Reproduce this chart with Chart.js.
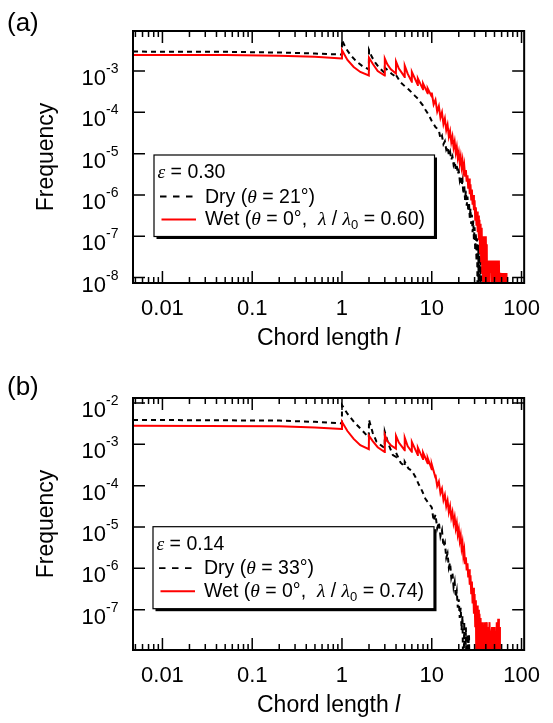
<!DOCTYPE html>
<html>
<head>
<meta charset="utf-8">
<title>Chord length distributions</title>
<script src="https://cdn.jsdelivr.net/npm/chart.js@4.4.0/dist/chart.umd.min.js"></script>
<style>
  html, body { margin: 0; padding: 0; background: #fff; }
  canvas { display: block; }
</style>
</head>
<body>
<canvas id="chartA" width="553" height="361"></canvas>
<canvas id="chartB" width="553" height="362"></canvas>
<script>
// ---- axis ticks ----
const xTickValues = [0.01, 0.1, 1, 10, 100];
const xTickLabels = ['0.01', '0.1', '1', '10', '100'];
const yTickValuesA = [1e-3, 1e-4, 1e-5, 1e-6, 1e-7, 1e-8];
const yTickExpA = ['-3', '-4', '-5', '-6', '-7', '-8'];
const yTickValuesB = [1e-2, 1e-3, 1e-4, 1e-5, 1e-6, 1e-7];
const yTickExpB = ['-2', '-3', '-4', '-5', '-6', '-7'];

// ---- panel (a): wet (red) ----
const wetA_x = [
  0.0047, 0.05, 0.2, 0.5, 0.999,
  1, 1.15, 1.35, 1.6, 1.99,
  2, 2.2, 2.5, 2.99,
  3, 3.2, 3.5, 3.99,
  4, 4.3, 4.99,
  5, 5.4, 5.99,
  6, 6.99, 7, 7.99, 8, 8.99, 9, 9.99, 10,
  10.5, 11, 11.5, 12, 12.5, 13, 13.5, 14, 14.5, 15, 15.5, 16, 16.5, 17, 17.5, 18, 18.5, 19, 19.5, 20,
  20.5, 21, 21.5, 22, 22.5, 23, 23.5, 24, 24.5, 25, 25.5, 26, 26.5, 27, 27.5, 28, 28.5,
  29, 29.5, 30, 30.5, 31, 31.5, 32, 32.5, 33, 33.5, 34, 34.5, 35, 35.5, 36,
  36.5, 37, 37.5, 38, 38.5, 39, 39.5, 40, 40.5, 41, 41.5, 42, 43, 44, 45, 46, 47, 48,
  49, 50, 51, 52, 53, 54, 55, 56, 57, 58, 59, 60, 61, 62, 63, 64, 65, 66, 67, 68, 69
];
const wetA_y = [
  2.45e-3, 2.43e-3, 2.35e-3, 2.2e-3, 2.02e-3,
  3.2e-3, 1.85e-3, 1.25e-3, 9.5e-4, 7.8e-4,
  2.1e-3, 1.5e-3, 1.0e-3, 7.8e-4,
  2.0e-3, 1.45e-3, 1.1e-3, 8.7e-4,
  1.7e-3, 1.15e-3, 7.2e-4,
  1.35e-3, 8.5e-4, 5.5e-4,
  9.5e-4, 4.6e-4, 6.6e-4, 3.6e-4, 5.0e-4, 2.9e-4, 3.8e-4, 2.4e-4, 3.0e-4,
  1.55e-4, 2.0e-4, 1.05e-4, 1.41e-4, 7.4e-5, 1.0e-4, 5.2e-5, 7.1e-5, 3.7e-5, 5.0e-5, 2.6e-5, 3.5e-5, 1.9e-5, 2.6e-5, 1.41e-5, 1.95e-5, 1.05e-5, 1.45e-5, 7.9e-6, 1.07e-5,
  6.0e-6, 8.5e-6, 4.8e-6, 6.8e-6, 3.7e-6, 5.2e-6, 2.9e-6, 4.0e-6, 2.1e-6, 3.0e-6, 1.41e-6, 2.5e-6, 1.05e-6, 1.8e-6, 7.8e-7, 1.35e-6, 5.8e-7,
  1.0e-6, 4.3e-7, 7.4e-7, 2.5e-7, 5.0e-7, 1.8e-7, 4.0e-7, 1.26e-7, 3.2e-7, 8e-8, 2.5e-7, 4e-8, 2.0e-7, 2.5e-8, 1.6e-7,
  1.3e-8, 1.0e-7, 1e-9, 1.0e-7, 2.6e-8, 7.6e-8, 1e-9, 1.0e-7, 1.3e-8, 6.4e-8, 1e-9, 2.6e-8, 1e-9, 2.6e-8, 1.3e-8, 2.6e-8, 1e-9, 2.6e-8,
  1e-9, 2.6e-8, 1.3e-8, 2.6e-8, 1e-9, 2.6e-8, 1e-9, 2.6e-8, 1e-9, 1.3e-8, 1e-9, 1.3e-8, 1e-9, 1.3e-8, 1e-9, 1.3e-8, 1e-9, 1.3e-8, 1e-9, 1.3e-8, 1e-9
];

// ---- panel (a): dry (black dashed) ----
const dryA_x = [
  0.0047, 0.05, 0.2, 0.5, 0.999,
  1, 1.1, 1.25, 1.45, 1.7, 1.99,
  2, 2.15, 2.35, 2.6, 2.99,
  3, 3.3, 3.6, 3.99,
  4, 4.5, 5, 5.5, 6, 6.5, 7, 7.5, 8, 8.5, 9, 9.5, 10, 11,
  12, 12.5, 13, 13.5, 14, 14.5, 15, 15.5, 16, 16.5, 17, 17.5, 18, 18.5, 19, 19.5, 20, 20.5, 21, 21.5, 22,
  22.5, 23, 23.5, 24, 24.5, 25, 25.5, 26, 26.5, 27, 27.5, 28, 28.5, 29, 29.5, 30, 30.5, 31, 31.5, 32,
  32.5, 33, 33.5, 34, 34.5, 35, 35.5, 36, 36.5, 37, 37.5
];
const dryA_y = [
  2.95e-3, 2.92e-3, 2.8e-3, 2.65e-3, 2.5e-3,
  5.6e-3, 3.6e-3, 2.4e-3, 1.7e-3, 1.3e-3, 1.1e-3,
  3.2e-3, 2.2e-3, 1.6e-3, 1.2e-3, 9e-4,
  1.2e-3, 1.0e-3, 8.5e-4, 7.2e-4,
  8.0e-4, 5.3e-4, 4.3e-4, 3.6e-4, 3.0e-4, 2.5e-4, 2.15e-4, 1.75e-4, 1.45e-4, 1.15e-4, 9.5e-5, 7.7e-5, 6.2e-5, 4.4e-5,
  3.7e-5, 2.3e-5, 2.7e-5, 1.7e-5, 2.0e-5, 1.26e-5, 1.48e-5, 9.3e-6, 1.12e-5, 7.1e-6, 8.5e-6, 5.4e-6, 6.6e-6, 4.2e-6, 5.1e-6, 3.2e-6, 3.8e-6, 2.3e-6, 2.9e-6, 1.7e-6, 2.2e-6,
  1.05e-6, 1.74e-6, 7.6e-7, 1.26e-6, 5.5e-7, 9.1e-7, 4.0e-7, 6.6e-7, 2.8e-7, 4.7e-7, 2.0e-7, 3.3e-7, 1.26e-7, 2.4e-7, 8e-8, 1.66e-7, 4.5e-8, 1.2e-7, 2.5e-8, 8.9e-8,
  1e-9, 6.3e-8, 1e-9, 4.5e-8, 1e-9, 3.2e-8, 1e-9, 2.6e-8, 1e-9, 1.3e-8, 1e-9
];

// ---- panel (b): wet (red) ----
const wetB_x = [
  0.0047, 0.2, 0.5, 0.999,
  1, 1.15, 1.35, 1.6, 1.99,
  2, 2.2, 2.5, 2.99,
  3, 3.2, 3.5, 3.99,
  4, 4.3, 4.99,
  5, 5.4, 5.99,
  6, 6.99, 7, 7.99, 8, 8.99, 9, 9.99, 10, 10.99,
  11, 11.5, 12, 12.5, 13, 13.5, 14, 14.5, 15, 15.5, 16, 16.5, 17, 17.5, 18, 18.5, 19, 19.5, 20,
  20.5, 21, 21.5, 22, 22.5, 23, 23.5, 24, 24.5, 25, 25.5, 26, 26.5, 27, 27.5, 28,
  28.5, 29, 29.5, 30, 30.5, 31, 31.5, 32, 32.5, 33, 33.5, 34, 34.5, 35, 35.5, 36, 36.5,
  37, 37.5, 38, 38.5, 39, 39.5, 40, 41, 41.5, 42, 43, 44, 45, 46, 47, 48, 49, 50, 51, 53, 54, 55, 56, 57, 57.5
];
const wetB_y = [
  2.8e-3, 2.75e-3, 2.55e-3, 2.35e-3,
  3.5e-3, 2.1e-3, 1.35e-3, 9.5e-4, 7.6e-4,
  1.6e-3, 1.2e-3, 8.5e-4, 6.5e-4,
  1.7e-3, 1.2e-3, 9.5e-4, 7.9e-4,
  1.6e-3, 1.1e-3, 7.2e-4,
  1.45e-3, 9e-4, 6.6e-4,
  1.15e-3, 5.5e-4, 8.3e-4, 4.4e-4, 6.3e-4, 3.5e-4, 4.7e-4, 2.5e-4, 3.3e-4, 1.58e-4,
  1.86e-4, 9.8e-5, 1.26e-4, 6.6e-5, 8.5e-5, 4.5e-5, 6.0e-5, 3.2e-5, 4.4e-5, 2.3e-5, 3.2e-5, 1.7e-5, 2.3e-5, 1.26e-5, 1.74e-5, 9.3e-6, 1.26e-5, 6.6e-6, 8.9e-6,
  4.7e-6, 6.3e-6, 3.1e-6, 4.2e-6, 2.0e-6, 2.75e-6, 1.32e-6, 1.86e-6, 8.9e-7, 1.32e-6, 6.0e-7, 9.5e-7, 4.0e-7, 6.8e-7, 2.5e-7, 4.8e-7,
  1.41e-7, 3.4e-7, 8e-8, 2.4e-7, 4e-8, 1.7e-7, 1e-9, 1.26e-7, 2.5e-8, 1e-7, 1e-9, 8e-8, 2.5e-8, 6.3e-8, 1e-9, 5e-8, 1.1e-8,
  5e-8, 1e-9, 3.8e-8, 1.1e-8, 5e-8, 1e-9, 2.5e-8, 5e-8, 1e-9, 3.8e-8, 1.1e-8, 5e-8, 1e-9, 2.5e-8, 3.8e-8, 1e-9, 2.5e-8, 3.8e-8, 1e-9, 5e-8, 1e-9, 6e-8, 1e-9, 3.8e-8, 1e-9
];

// ---- panel (b): dry (black dashed) ----
const dryB_x = [
  0.0047, 0.2, 0.5, 0.999,
  1, 1.15, 1.36, 1.67, 1.99,
  2, 2.2, 2.43, 2.87, 2.99,
  3, 3.3, 3.69, 3.99,
  4, 4.5, 4.99, 5, 5.5, 6, 6.6, 7.2, 7.8, 8.5, 9.2,
  10, 10.5, 11, 11.5, 12, 12.5, 13, 13.5, 14, 14.5, 15, 15.5, 16, 16.5, 17, 17.5, 18, 18.5, 19, 19.5, 20,
  20.5, 21, 21.5, 22, 22.5, 23, 23.5, 24, 24.5, 25, 25.5, 26, 26.5, 27, 27.5
];
const dryB_y = [
  3.9e-3, 3.75e-3, 3.5e-3, 3.2e-3,
  8.9e-3, 5.5e-3, 3.5e-3, 2.2e-3, 1.45e-3,
  3.9e-3, 1.9e-3, 1.15e-3, 8.7e-4, 8.3e-4,
  2.0e-3, 1.0e-3, 5.5e-4, 5.0e-4,
  6.3e-4, 3.6e-4, 2.9e-4, 3.8e-4, 2.6e-4, 2.3e-4, 1.6e-4, 1.05e-4, 7.5e-5, 4.8e-5, 3.8e-5,
  3.0e-5, 1.41e-5, 2.0e-5, 9.3e-6, 1.32e-5, 6.0e-6, 8.3e-6, 3.4e-6, 4.2e-6, 1.8e-6, 2.3e-6, 1.05e-6, 1.38e-6, 6.0e-7, 7.9e-7, 3.5e-7, 4.7e-7, 2.0e-7, 2.8e-7, 1.12e-7, 1.78e-7,
  6.3e-8, 1.12e-7, 3.2e-8, 7.1e-8, 1e-9, 5e-8, 1e-9, 3.8e-8, 1e-9, 2.5e-8, 1.1e-8, 2.5e-8, 1e-9, 1.1e-8, 1e-9
];

// ---- legend texts ----
const legendA = ['0.30', '21°', '0.60'];
const legendB = ['0.14', '33°', '0.74'];

const SANS = "'Liberation Sans', Arial, sans-serif";
const SERIF = "'Liberation Serif', 'Times New Roman', serif";

function toPoints(xs, ys) {
  return xs.map((x, i) => ({ x: x, y: ys[i] }));
}

function drawRuns(ctx, x, y, runs) {
  runs.forEach(r => {
    ctx.font = r.font;
    ctx.fillText(r.t, x, y + (r.dy || 0));
    x += ctx.measureText(r.t).width;
  });
  return x;
}

function runsWidth(ctx, runs) {
  let w = 0;
  runs.forEach(r => { ctx.font = r.font; w += ctx.measureText(r.t).width; });
  return w;
}

// frame, inward ticks, labels, titles and legend box
const panelDecor = {
  id: 'panelDecor',
  afterDraw(chart, args, o) {
    const ctx = chart.ctx;
    const a = chart.chartArea;
    const xs = chart.scales.x, ys = chart.scales.y;
    ctx.save();
    ctx.strokeStyle = '#000';
    ctx.fillStyle = '#000';

    // x ticks (top and bottom)
    ctx.lineWidth = 1.5;
    ctx.beginPath();
    for (let e = -3; e <= 2; e++) {
      for (let k = 1; k <= 9; k++) {
        const v = k * Math.pow(10, e);
        if (v < xs.min || v > xs.max) continue;
        const px = xs.getPixelForValue(v);
        const len = k === 1 ? 12 : 6;
        ctx.moveTo(px, a.bottom); ctx.lineTo(px, a.bottom - len);
        ctx.moveTo(px, a.top); ctx.lineTo(px, a.top + len);
      }
    }
    // y ticks (left and right)
    o.yTicks.forEach(v => {
      const py = ys.getPixelForValue(v);
      ctx.moveTo(a.left, py); ctx.lineTo(a.left + 12, py);
      ctx.moveTo(a.right, py); ctx.lineTo(a.right - 12, py);
    });
    ctx.stroke();

    // frame
    ctx.lineWidth = 2;
    ctx.strokeRect(a.left, a.top, a.right - a.left, a.bottom - a.top);

    // y tick labels 10^n
    ctx.textBaseline = 'alphabetic';
    o.yTicks.forEach((v, i) => {
      const py = ys.getPixelForValue(v);
      const xr = a.left - 27;
      ctx.font = '22px ' + SANS;
      ctx.textAlign = 'right';
      ctx.fillText('10', xr, py + 14);
      ctx.font = '14px ' + SANS;
      ctx.textAlign = 'left';
      ctx.fillText(o.yExp[i], xr, py + 2);
    });

    // y title
    ctx.save();
    ctx.translate(53, (a.top + a.bottom) / 2);
    ctx.rotate(-Math.PI / 2);
    ctx.textAlign = 'center';
    ctx.font = '23px ' + SANS;
    ctx.fillText('Frequency', 0, 0);
    ctx.restore();

    // x title
    ctx.textAlign = 'left';
    const xt = [
      { t: 'Chord length ', font: '23px ' + SANS },
      { t: 'l', font: 'italic 23px ' + SANS }
    ];
    const cx = (a.left + a.right) / 2;
    drawRuns(ctx, cx - runsWidth(ctx, xt) / 2, a.bottom + 62, xt);

    // panel label
    ctx.font = '26px ' + SANS;
    ctx.fillText(o.label, 7, o.labelY);

    // legend box with shadow
    const L = a.left + o.box[0], T = a.top + o.box[1], W = o.box[2], H = o.box[3];
    ctx.fillStyle = '#000';
    ctx.fillRect(L + 2.5, T + 2.5, W, H);
    ctx.fillStyle = '#fff';
    ctx.fillRect(L, T, W, H);
    ctx.lineWidth = 1.2;
    ctx.strokeStyle = '#000';
    ctx.strokeRect(L, T, W, H);

    ctx.fillStyle = '#000';
    const f = '19.5px ' + SANS, fi = 'italic 19.5px ' + SERIF, fs = '13px ' + SANS;
    drawRuns(ctx, L + 3.5, T + 23, [
      { t: 'ε', font: fi }, { t: ' = ' + o.legend[0], font: f }
    ]);
    // dry sample
    ctx.save();
    ctx.lineWidth = 1.8;
    ctx.setLineDash([6.5, 6.5]);
    ctx.beginPath();
    ctx.moveTo(L + 6, T + 41.5); ctx.lineTo(L + 40, T + 41.5);
    ctx.stroke();
    ctx.restore();
    drawRuns(ctx, L + 51, T + 47.5, [
      { t: 'Dry (', font: f }, { t: 'θ', font: fi }, { t: ' = ' + o.legend[1] + ')', font: f }
    ]);
    // wet sample
    ctx.strokeStyle = '#ff0000';
    ctx.lineWidth = 2;
    ctx.beginPath();
    ctx.moveTo(L + 7.5, T + 64.5); ctx.lineTo(L + 42, T + 64.5);
    ctx.stroke();
    drawRuns(ctx, L + 51, T + 70, [
      { t: 'Wet (', font: f }, { t: 'θ', font: fi }, { t: ' = 0°,  ', font: f },
      { t: 'λ', font: fi }, { t: ' / ', font: f }, { t: 'λ', font: fi },
      { t: '0', font: fs, dy: 4 }, { t: ' = ' + o.legend[2] + ')', font: f }
    ]);
    ctx.restore();
  }
};

function makePanel(id, cfg) {
  return new Chart(document.getElementById(id), {
    type: 'line',
    data: {
      datasets: [
        {
          label: 'Wet',
          data: toPoints(cfg.wetX, cfg.wetY),
          borderColor: '#ff0000',
          borderWidth: 2,
          pointRadius: 0,
          tension: 0,
          fill: false
        },
        {
          label: 'Dry',
          data: toPoints(cfg.dryX, cfg.dryY),
          borderColor: '#000000',
          borderWidth: 2,
          borderDash: [5, 4],
          pointRadius: 0,
          tension: 0,
          fill: false
        }
      ]
    },
    options: {
      responsive: false,
      animation: false,
      devicePixelRatio: 1,
      layout: { padding: { left: 133, right: 18, top: cfg.top, bottom: 0 } },
      plugins: {
        legend: { display: false },
        tooltip: { enabled: false },
        panelDecor: {
          yTicks: cfg.yTicks, yExp: cfg.yExp, label: cfg.label, labelY: cfg.labelY,
          box: cfg.box, legend: cfg.legend
        }
      },
      scales: {
        x: {
          type: 'logarithmic',
          position: 'bottom',
          min: 0.0047,
          max: 107,
          bounds: 'data',
          grid: { display: false, drawTicks: false },
          border: { display: false },
          afterBuildTicks: s => { s.ticks = xTickValues.map(v => ({ value: v })); },
          afterFit: s => { s.height = cfg.xHeight; },
          ticks: {
            autoSkip: false,
            maxRotation: 0,
            padding: 13,
            color: '#000',
            font: { family: SANS, size: 22 },
            callback: (v, i) => xTickLabels[i]
          }
        },
        y: {
          type: 'logarithmic',
          display: false,
          min: cfg.yMin,
          max: cfg.yMax,
          bounds: 'data'
        }
      }
    },
    plugins: [panelDecor]
  });
}

makePanel('chartA', {
  wetX: wetA_x, wetY: wetA_y, dryX: dryA_x, dryY: dryA_y,
  yMin: 7.4e-9, yMax: 9.3e-3, yTicks: yTickValuesA, yExp: yTickExpA,
  top: 31, xHeight: 78, label: '(a)', labelY: 31,
  box: [21, 124, 280.5, 81.5], legend: legendA
});

makePanel('chartB', {
  wetX: wetB_x, wetY: wetB_y, dryX: dryB_x, dryY: dryB_y,
  yMin: 1.06e-8, yMax: 1.32e-2, yTicks: yTickValuesB, yExp: yTickExpB,
  top: 37, xHeight: 73, label: '(b)', labelY: 33.5,
  box: [20, 128.7, 281, 82], legend: legendB
});
</script>
</body>
</html>
